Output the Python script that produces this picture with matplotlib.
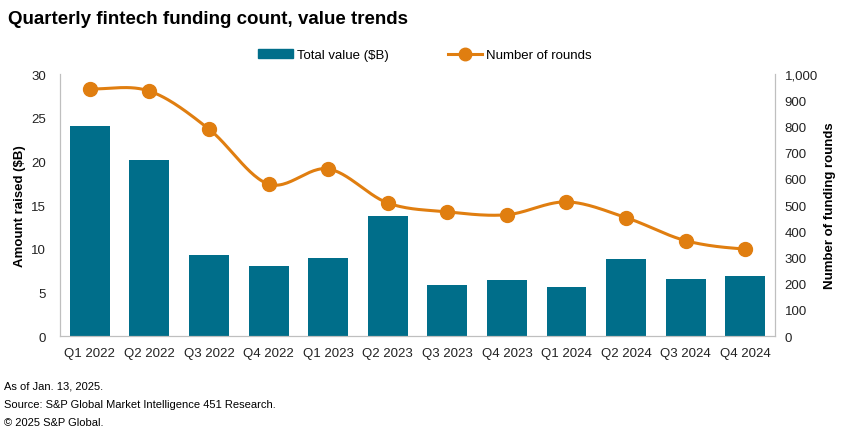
import numpy as np
import matplotlib
matplotlib.use('Agg')
import matplotlib.pyplot as plt
from matplotlib.lines import Line2D
from matplotlib.patches import Patch

# Data
quarters = ['Q1 2022', 'Q2 2022', 'Q3 2022', 'Q4 2022', 'Q1 2023', 'Q2 2023',
            'Q3 2023', 'Q4 2023', 'Q1 2024', 'Q2 2024', 'Q3 2024', 'Q4 2024']
total_value = [24.1, 20.2, 9.3, 8.0, 8.9, 13.7, 5.8, 6.4, 5.6, 8.8, 6.5, 6.9]
num_rounds = [943, 935, 790, 580, 638, 508, 474, 463, 512, 452, 364, 332]

bar_color = '#006E8A'
line_color = '#E07E10'
grey = '#BFBFBF'

plt.rcParams['font.family'] = ['Liberation Sans', 'DejaVu Sans']

fig = plt.figure(figsize=(8.5, 4.39), dpi=100)
ax = fig.add_axes([0.0706, 0.2323, 0.8412, 0.5967])
ax2 = ax.twinx()

x = np.arange(len(quarters))
ax.bar(x, total_value, width=0.67, color=bar_color, zorder=2)


# smooth curve through the points (Catmull-Rom style, for display only)
def smooth(xs, ys, n=30):
    xs = np.asarray(xs, float)
    ys = np.asarray(ys, float)
    out_x, out_y = [], []
    for i in range(len(xs) - 1):
        p0 = ys[i - 1] if i > 0 else ys[i]
        p1, p2 = ys[i], ys[i + 1]
        p3 = ys[i + 2] if i + 2 < len(ys) else ys[i + 1]
        t = np.linspace(0, 1, n)
        y = 0.5 * ((2 * p1) + (-p0 + p2) * t + (2 * p0 - 5 * p1 + 4 * p2 - p3) * t ** 2
                   + (-p0 + 3 * p1 - 3 * p2 + p3) * t ** 3)
        out_x.extend(xs[i] + t * (xs[i + 1] - xs[i]))
        out_y.extend(y)
    return np.array(out_x), np.array(out_y)


sx, sy = smooth(x, num_rounds)
ax2.plot(sx, sy, color=line_color, lw=2.2, zorder=3)
ax2.plot(x, num_rounds, 'o', color=line_color, ms=10, zorder=4)

ax.set_xlim(-0.5, len(quarters) - 0.5)
ax.set_ylim(0, 30)
ax.set_yticks(range(0, 31, 5))
ax2.set_ylim(0, 1000)
ax2.set_yticks(range(0, 1001, 100))
ax2.set_yticklabels([f'{v:,}' for v in range(0, 1001, 100)])

ax.set_xticks(x)
ax.set_xticklabels(quarters)

for a in (ax, ax2):
    a.tick_params(length=0, labelsize=9.5, colors='#222222')
    for s in a.spines.values():
        s.set_color(grey)
    a.spines['top'].set_visible(False)
ax.tick_params(axis='x', pad=8)
ax.tick_params(axis='y', pad=10)
ax2.tick_params(axis='y', pad=7)

ax.set_ylabel('Amount raised ($B)', fontsize=9.5, fontweight='bold', labelpad=4)
ax2.set_ylabel('Number of funding rounds', fontsize=9.5, fontweight='bold', labelpad=4)

fig.text(0.009, 0.955, 'Quarterly fintech funding count, value trends',
         fontsize=13.5, fontweight='bold', va='center', ha='left')

handles = [Patch(color=bar_color, label='Total value ($B)'),
           Line2D([0], [0], color=line_color, lw=2.2, marker='o', ms=9, label='Number of rounds')]
fig.legend(handles=handles, loc='center', bbox_to_anchor=(0.5, 0.872), ncol=2,
           frameon=False, fontsize=9.5, handlelength=2.6, columnspacing=4.5,
           handletextpad=0.3)

notes = ['As of Jan. 13, 2025.',
         'Source: S&P Global Market Intelligence 451 Research.',
         '\u00a9 2025 S&P Global.']
for i, t in enumerate(notes):
    fig.text(0.005, 1 - (387 + i * 18) / 439, t, fontsize=8, va='center', ha='left')

fig.savefig('out.png', dpi=100)
